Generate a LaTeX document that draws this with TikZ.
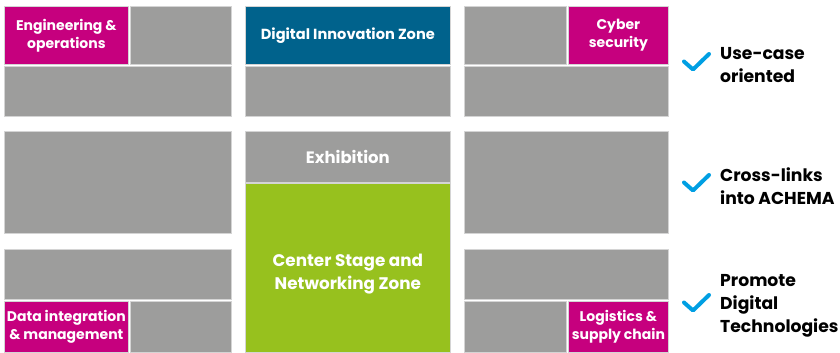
\documentclass[tikz,border=0pt]{standalone}
\usepackage{fontspec}
\setmainfont{Poppins}
\usetikzlibrary{positioning}
\definecolor{zonegray}{HTML}{9D9D9C}
\definecolor{zonemagenta}{HTML}{C6007E}
\definecolor{zoneblue}{HTML}{00628C}
\definecolor{zonegreen}{HTML}{97C11E}
\definecolor{tickblue}{HTML}{009FE3}
\definecolor{boxline}{HTML}{D4D4D4}

\begin{document}
\begin{tikzpicture}[
    x=1pt, y=-1pt,
    box/.style={
        rectangle,
        draw=boxline,
        line width=0.7pt,
        anchor=north west,
        inner sep=0pt,
        align=center,
        text=white,
        font=\bfseries\fontsize{14}{18}\selectfont
    },
    grey/.style={box, fill=zonegray},
    topic/.style={box, fill=zonemagenta},
    point/.style={
        anchor=west,
        align=left,
        inner sep=0pt,
        font=\bfseries\fontsize{17.2}{23}\selectfont
    },
    tick/.style={draw=tickblue, line width=4pt, line cap=round, line join=round}
]
\useasboundingbox (0,0) rectangle (840,353);

% left block
\node[topic, minimum width=124pt, minimum height=58pt] (eng) at (4,6) {Engineering \&\\operations};
\node[grey, minimum width=101pt, minimum height=58pt] (lefta) at (130,6) {};
\node[grey, minimum width=227pt, minimum height=50pt] (leftb) at (4,66) {};
\node[grey, minimum width=227pt, minimum height=102pt] (leftc) at (4,131) {};
\node[grey, minimum width=227pt, minimum height=50pt] (leftd) at (4,249) {};
\node[topic, minimum width=124pt, minimum height=51pt] (data) at (4,301) {Data integration\\\& management};
\node[grey, minimum width=101pt, minimum height=51pt] (lefte) at (130,301) {};

% middle block
\node[box, fill=zoneblue, minimum width=205pt, minimum height=58pt, font=\bfseries\fontsize{14.6}{18}\selectfont] (diz) at (245,6) {Digital Innovation Zone};
\node[grey, minimum width=205pt, minimum height=50pt] (mida) at (245,66) {};
\node[grey, minimum width=205pt, minimum height=51pt, font=\bfseries\fontsize{16.5}{18}\selectfont] (exh) at (245,131) {Exhibition};
\node[box, fill=zonegreen, minimum width=205pt, minimum height=169pt] (csz) at (245,183) {};
\node[align=center, text=white, font=\bfseries\fontsize{16.8}{23}\selectfont] (csztext) at ([yshift=-6pt]csz.center) {Center Stage and\\Networking Zone};

% right block
\node[grey, minimum width=102pt, minimum height=58pt] (righta) at (464,6) {};
\node[topic, minimum width=100pt, minimum height=58pt] (cyber) at (568,6) {Cyber\\security};
\node[grey, minimum width=204pt, minimum height=50pt] (rightb) at (464,66) {};
\node[grey, minimum width=204pt, minimum height=102pt] (rightc) at (464,131) {};
\node[grey, minimum width=204pt, minimum height=50pt] (rightd) at (464,249) {};
\node[grey, minimum width=102pt, minimum height=51pt] (righte) at (464,301) {};
\node[topic, minimum width=100pt, minimum height=51pt] (logi) at (568,301) {Logistics \&\\supply chain};

% key points
\node[point] (usecase) at (720,65) {Use-case\\oriented};
\node[point] (crosslinks) at (720,186) {Cross-links\\into ACHEMA};
\node[point] (promote) at (720,306) {Promote\\Digital\\Technologies};

\foreach \p in {usecase, crosslinks, promote}
    \draw[tick] ([shift={(-36,-3.5)}]\p.west) -- ([shift={(-27,4.5)}]\p.west) -- ([shift={(-11,-11)}]\p.west);

\end{tikzpicture}
\end{document}
